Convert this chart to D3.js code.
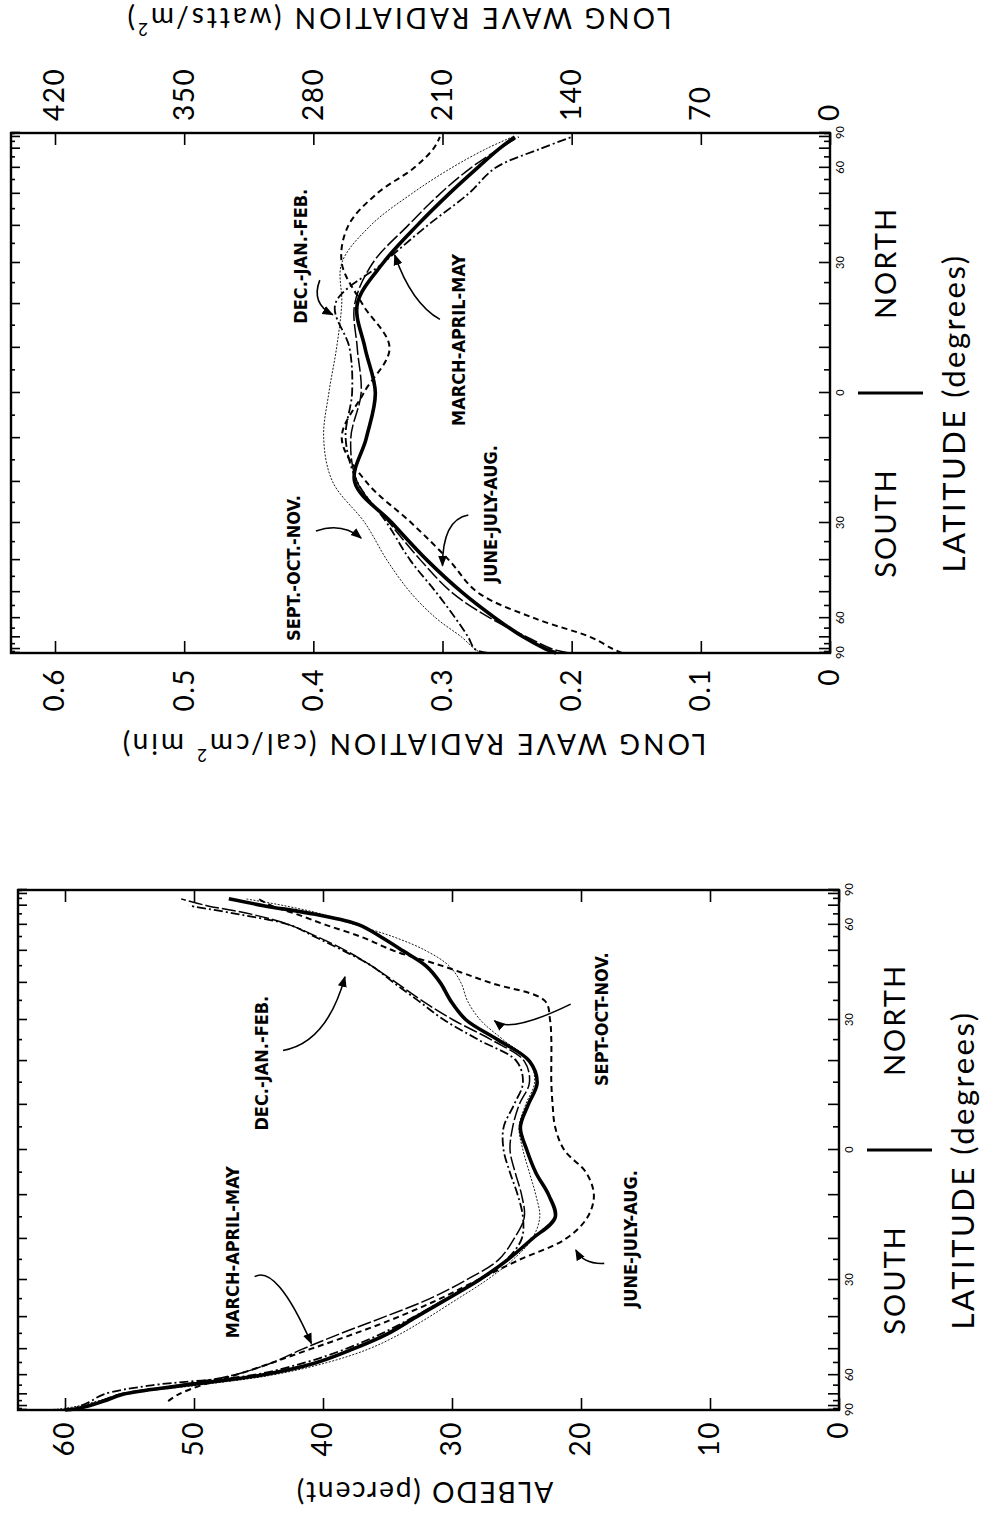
<!DOCTYPE html>
<html>
<head>
<meta charset="utf-8">
<script src="https://cdn.jsdelivr.net/npm/d3@7"></script>
<style>
  body { margin: 0; background: #fff; }
  text { font-family: Lato, "DejaVu Sans", sans-serif; fill: #000; }
  .note { font-family: "Liberation Sans Narrow", "DejaVu Sans Condensed", sans-serif; font-weight: bold; font-size: 18px; }
</style>
</head>
<body>
<svg id="fig" width="985" height="1524"></svg>
<script>
// ---- albedo panel (percent) ----
var albedoLats = [-90,-85,-80,-75,-70,-65,-60,-55,-50,-45,-40,-35,-30,-25,-20,-15,-10,-5,0,5,10,15,20,25,30,35,40,45,50,55,60,65,70,75];
var albedoAnnual = [60,59.2,58.2,57,55.5,51,44.8,40.6,37.7,35,32.8,30.4,27.9,25.7,23.8,22,22.5,23.5,24.2,24.7,24.1,23.4,24,26.4,28.9,30.1,30.9,32,33.8,35.5,37.2,40.6,44.6,47.3];
var albedoMAM = [60,59.3,58.5,57.3,55.8,51.5,47,44,41.6,38.7,35.3,31.8,28.9,26.4,25.2,24.4,24.6,25.1,25.5,25.3,24.8,24,24.4,26.9,29.9,32.3,34.3,36.2,38.2,40.4,42.6,45.5,49,51];
var albedoJJA = [null,null,null,52,51.2,49.5,46.8,44,41,37.6,34.2,31,28,24.8,21.2,19.5,19,19.6,21.3,22,22.2,22.3,22.3,22.3,22.4,22.8,27,30.7,34.5,37,39.8,42,44,45];
var albedoSON = [62,60.5,59,57.5,55.5,50,44,39.8,36.5,34,31.8,29.6,27.3,25.3,23.8,23.2,23.5,24,24.5,24.8,24.3,23.6,24,26,27.8,28.8,29.3,30.2,32,34.5,37.5,40,43,46];
var albedoDJF = [60,59.5,58.8,58,57,53.5,45.5,41.5,38.3,35.5,33,30.5,28,25.8,24.6,24.5,24.9,25.5,26,26,25.2,24.5,25,27.9,30.6,32.6,34.5,36.2,38.4,40.6,42.6,46.5,50.4,null];
var albedoTicks = [0,10,20,30,40,50,60];

// ---- long wave panel (cal/cm2 min) ----
var lwLats = [-90,-80,-70,-60,-50,-40,-30,-20,-10,0,10,20,30,40,50,60,70,80];
var lwAnnual = [0.212,0.22,0.237,0.259,0.285,0.312,0.339,0.368,0.359,0.352,0.36,0.366,0.346,0.32,0.295,0.273,0.256,0.244];
var lwMAM = [0.202,0.215,0.234,0.263,0.293,0.317,0.341,0.366,0.371,0.363,0.366,0.368,0.354,0.327,0.302,0.278,0.256,0.241];
var lwJJA = [0.161,0.168,0.185,0.229,0.273,0.295,0.324,0.359,0.378,0.361,0.341,0.362,0.378,0.373,0.351,0.322,0.307,0.302];
var lwSON = [0.27,0.275,0.285,0.305,0.325,0.343,0.36,0.385,0.392,0.388,0.382,0.378,0.378,0.356,0.324,0.293,0.266,0.246];
var lwDJF = [0.265,0.275,0.28,0.29,0.305,0.325,0.343,0.366,0.375,0.37,0.372,0.383,0.346,0.312,0.28,0.259,0.224,0.2];
var lwTicks = [0,0.1,0.2,0.3,0.4,0.5,0.6];
var wattTicks = [0,70,140,210,280,350,420];

var latLabelLats = [-90,-60,-30,0,30,60,90];
var latLabelText = ["90","60","30","0","30","60","90"];

// line style for each season
var styles = {
  annual: { w: 3.6, dash: null },
  MAM:    { w: 1.5, dash: "14,3" },
  JJA:    { w: 2.0, dash: "6,4" },
  SON:    { w: 0.9, dash: "2,1.5" },
  DJF:    { w: 1.8, dash: "9,3,2,3" }
};

// annotations: text at [sin(lat) centre, value], arrow tail/control/head in [sin(lat), value]
var albedoNotes = [
  { text: "MARCH-APRIL-MAY", at: [-0.393, 47.0], arrow: [[-0.487, 45.3], [-0.44, 43.6], [-0.744, 40.9]] },
  { text: "DEC.-JAN.-FEB.", at: [0.334, 44.8], arrow: [[0.383, 43.1], [0.413, 39.7], [0.666, 38.3]] },
  { text: "SEPT-OCT-NOV.", at: [0.503, 18.4], arrow: [[0.561, 20.8], [0.447, 25.5], [0.497, 26.7]] },
  { text: "JUNE-JULY-AUG.", at: [-0.342, 16.2], arrow: [[-0.436, 18.2], [-0.44, 19.8], [-0.385, 20.4]] }
];
var lwNotes = [
  { text: "DEC.-JAN.-FEB.", at: [0.526, 0.41], arrow: [[0.434, 0.395], [0.345, 0.402], [0.301, 0.385]] },
  { text: "MARCH-APRIL-MAY", at: [0.204, 0.288], arrow: [[0.283, 0.302], [0.345, 0.324], [0.531, 0.337]] },
  { text: "SEPT.-OCT.-NOV.", at: [-0.673, 0.415], arrow: [[-0.531, 0.398], [-0.496, 0.378], [-0.558, 0.363]] },
  { text: "JUNE-JULY-AUG.", at: [-0.465, 0.263], arrow: [[-0.469, 0.28], [-0.487, 0.3], [-0.664, 0.3]] }
];

function sinLat(d) { return Math.sin(d * Math.PI / 180); }

var svg = d3.select("#fig");
// the published figure is printed turned a quarter turn, so draw it upright and turn it
var fig = svg.append("g").attr("transform", "translate(0,1524) rotate(-90)");

svg.append("defs").append("marker")
  .attr("id", "head").attr("viewBox", "0 0 10 10")
  .attr("refX", 9).attr("refY", 5)
  .attr("markerWidth", 7).attr("markerHeight", 7)
  .attr("orient", "auto")
  .append("path").attr("d", "M0,1 L10,5 L0,9 Z").attr("fill", "#000");

function drawPanel(cfg) {
  var g = fig.append("g");
  var x = cfg.x, y = cfg.y;
  var x0 = x.range()[0], x1 = x.range()[1];

  // latitude ticks, pointing inward on both long sides
  var major = d3.range(-90, 91, 10).map(sinLat);
  var minor = d3.range(-85, 90, 10).map(sinLat);
  [[major, 11], [minor, 6]].forEach(function(t) {
    g.append("g").attr("transform", "translate(0," + cfg.bottom + ")")
      .call(d3.axisBottom(x).tickValues(t[0]).tickSize(-t[1]).tickFormat(""));
    g.append("g").attr("transform", "translate(0," + cfg.top + ")")
      .call(d3.axisTop(x).tickValues(t[0]).tickSize(-t[1] + 2).tickFormat(""));
  });
  // small latitude numbers
  var latAx = g.append("g").attr("transform", "translate(0," + (cfg.bottom + 3) + ")")
    .call(d3.axisBottom(x).tickValues(latLabelLats.map(sinLat)).tickSize(0)
      .tickFormat(function(d, i) { return latLabelText[i]; }));
  latAx.selectAll("text").attr("font-size", 11).attr("font-family", "DejaVu Sans");

  // value axis (left) with labels
  var left = g.append("g").attr("transform", "translate(" + x0 + ",0)")
    .call(d3.axisLeft(y).tickValues(cfg.ticks).tickSize(-12).tickPadding(cfg.pad).tickFormat(cfg.fmt));
  left.selectAll("text").attr("font-size", 28).attr("font-family", "Lato").attr("letter-spacing", 1.5);

  // value axis (right)
  var right = g.append("g").attr("transform", "translate(" + x1 + ",0)");
  if (cfg.y2) {
    right.call(d3.axisRight(cfg.y2).tickValues(wattTicks).tickSize(-12).tickPadding(12));
    right.selectAll("text").attr("font-size", 28).attr("font-family", "Lato").attr("letter-spacing", 1.5);
  } else {
    right.call(d3.axisRight(y).tickValues(cfg.ticks).tickSize(-12).tickFormat(""));
  }
  g.selectAll(".domain").remove();
  g.selectAll(".tick line").attr("stroke", "#000").attr("stroke-width", 1.6);

  g.append("rect")
    .attr("x", x0).attr("y", cfg.top)
    .attr("width", x1 - x0).attr("height", cfg.bottom - cfg.top)
    .attr("fill", "none").attr("stroke", "#000").attr("stroke-width", 2.4);

  // curves
  var line = d3.line()
    .defined(function(d) { return d[1] != null; })
    .x(function(d) { return x(sinLat(d[0])); })
    .y(function(d) { return y(d[1]); })
    .curve(d3.curveCatmullRom.alpha(0.5));
  cfg.series.forEach(function(s) {
    var pts = cfg.lats.map(function(l, i) { return [l, s.values[i]]; })
      .filter(function(d) { return d[1] != null; });
    var st = styles[s.key];
    g.append("path").datum(pts)
      .attr("d", line)
      .attr("fill", "none").attr("stroke", "#000")
      .attr("stroke-width", st.w)
      .attr("stroke-dasharray", st.dash)
      .attr("stroke-linejoin", "round");
  });

  // season labels and arrows
  cfg.notes.forEach(function(n) {
    g.append("text").attr("class", "note")
      .attr("x", x(n.at[0])).attr("y", y(n.at[1]))
      .attr("text-anchor", "middle").attr("dominant-baseline", "central")
      .text(n.text);
    var p = d3.path();
    var a = n.arrow;
    p.moveTo(x(a[0][0]), y(a[0][1]));
    p.quadraticCurveTo(x(a[1][0]), y(a[1][1]), x(a[2][0]), y(a[2][1]));
    g.append("path").attr("d", p.toString())
      .attr("fill", "none").attr("stroke", "#000").attr("stroke-width", 1.6)
      .attr("marker-end", "url(#head)");
  });

  // axis titles
  g.append("text")
    .attr("transform", "translate(" + cfg.titleX + "," + cfg.titleY + ") rotate(-90)")
    .attr("text-anchor", "middle").attr("dominant-baseline", "central")
    .attr("font-size", 28).attr("letter-spacing", cfg.titleSpacing)
    .call(cfg.title);
  if (cfg.title2) {
    g.append("text")
      .attr("transform", "translate(" + cfg.title2X + "," + cfg.title2Y + ") rotate(-90)")
      .attr("text-anchor", "middle").attr("dominant-baseline", "central")
      .attr("font-size", 28).attr("letter-spacing", cfg.titleSpacing)
      .call(cfg.title2);
  }

  var zero = x(0);
  g.append("text").attr("x", x(sinLat(-30))).attr("y", cfg.bottom + 54)
    .attr("text-anchor", "middle").attr("dominant-baseline", "central")
    .attr("font-size", 29).attr("letter-spacing", 2).text("SOUTH");
  g.append("text").attr("x", x(sinLat(30))).attr("y", cfg.bottom + 54)
    .attr("text-anchor", "middle").attr("dominant-baseline", "central")
    .attr("font-size", 29).attr("letter-spacing", 2).text("NORTH");
  g.append("line").attr("x1", zero).attr("x2", zero)
    .attr("y1", cfg.bottom + 28).attr("y2", cfg.bottom + 93)
    .attr("stroke", "#000").attr("stroke-width", 3);
  g.append("text").attr("x", zero - 20).attr("y", cfg.bottom + 123)
    .attr("text-anchor", "middle").attr("dominant-baseline", "central")
    .attr("font-size", 31).attr("letter-spacing", 2.5).text("LATITUDE (degrees)");
}

function supTitle(main, sup, tail) {
  return function(t) {
    t.append("tspan").text(main);
    t.append("tspan").attr("font-size", 17).attr("baseline-shift", "super").text(sup);
    t.append("tspan").text(tail);
  };
}

drawPanel({
  x: d3.scaleLinear().domain([-1, 1]).range([114, 634]),
  y: d3.scaleLinear().domain([0, 60]).range([839, 65]),
  top: 18, bottom: 839, pad: 11,
  ticks: albedoTicks,
  fmt: d3.format("d"),
  lats: albedoLats,
  series: [
    { key: "SON", values: albedoSON },
    { key: "JJA", values: albedoJJA },
    { key: "MAM", values: albedoMAM },
    { key: "DJF", values: albedoDJF },
    { key: "annual", values: albedoAnnual }
  ],
  notes: albedoNotes,
  titleX: 31, titleY: 424, titleSpacing: 2,
  title: function(t) { t.text("ALBEDO (percent)"); }
});

drawPanel({
  x: d3.scaleLinear().domain([-1, 1]).range([871, 1391]),
  y: d3.scaleLinear().domain([0, 0.6]).range([830, 55]),
  y2: d3.scaleLinear().domain([0, 420]).range([830, 55]),
  top: 11, bottom: 830, pad: 15,
  ticks: lwTicks,
  fmt: function(d) { return d === 0 ? "0" : d.toFixed(1); },
  lats: lwLats,
  series: [
    { key: "SON", values: lwSON },
    { key: "JJA", values: lwJJA },
    { key: "MAM", values: lwMAM },
    { key: "DJF", values: lwDJF },
    { key: "annual", values: lwAnnual }
  ],
  notes: lwNotes,
  titleX: 779, titleY: 413, title2X: 1505, title2Y: 398, titleSpacing: 3,
  title: supTitle("LONG WAVE RADIATION (cal/cm", "2", " min)"),
  title2: supTitle("LONG WAVE RADIATION (watts/m", "2", ")")
});
</script>
</body>
</html>
